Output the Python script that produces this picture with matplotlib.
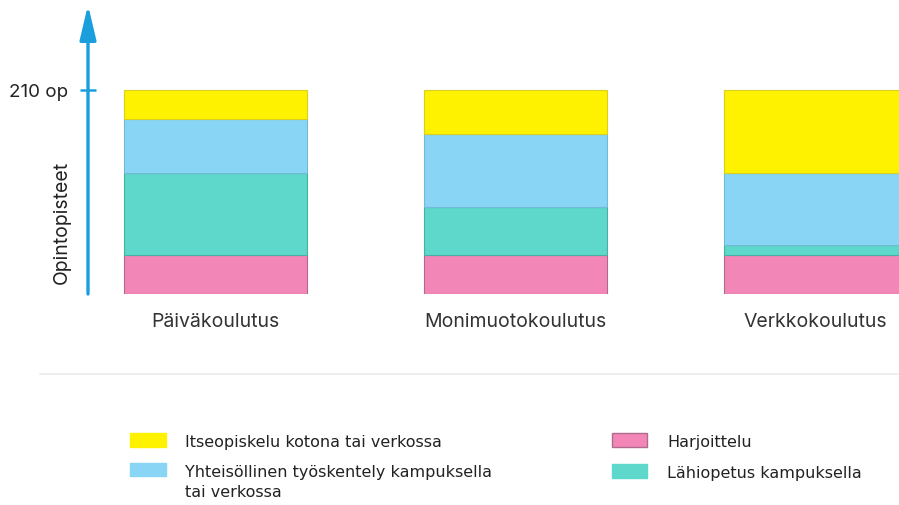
import matplotlib
matplotlib.use("Agg")
import matplotlib.pyplot as plt
from matplotlib.patches import Patch
from matplotlib.lines import Line2D

categories = ["Päiväkoulutus", "Monimuotokoulutus", "Verkkokoulutus"]
# op per category, bottom to top
harjoittelu = [40, 40, 40]
lahiopetus = [85, 50, 10]
yhteisollinen = [55, 75, 75]
itseopiskelu = [30, 45, 85]
total_op = 210

series = [
    ("Harjoittelu", harjoittelu, "#f287b7", "#b06a8c"),
    ("Lähiopetus kampuksella", lahiopetus, "#5ed8ca", "#4ab0a4"),
    ("Yhteisöllinen työskentely kampuksella\ntai verkossa", yhteisollinen, "#89d5f5", "#74b9d6"),
    ("Itseopiskelu kotona tai verkossa", itseopiskelu, "#fff200", "#d9cf20"),
]

BLUE = "#1a9fdc"
W, H = 899, 506

fig = plt.figure(figsize=(W / 100, H / 100), dpi=100)
fig.patch.set_facecolor("white")

# axes: left at arrow (x=88px), bottom at y=295px, top at arrow tip
ax = fig.add_axes([88 / W, (H - 295) / H, (W - 88) / W, 289 / H])
ymax = total_op * 289 / 204
ax.set_ylim(0, ymax)
ax.set_xlim((88 - 215.5) / 300, (899 - 215.5) / 300)

x = list(range(len(categories)))
bottom = [0] * len(categories)
for name, vals, col, edge in series:
    ax.bar(x, vals, width=0.61, bottom=bottom, color=col, edgecolor=edge,
           linewidth=0.8)
    bottom = [b + v for b, v in zip(bottom, vals)]

for s in ax.spines.values():
    s.set_visible(False)

ax.set_xticks(x)
ax.set_xticklabels(categories, fontsize=14, color="#333333", family="Inter")
ax.tick_params(axis="x", length=0, pad=13)

ax.set_yticks([total_op])
ax.set_yticklabels(["210 op"], fontsize=13.5, color="#222222", family="Inter")
ax.tick_params(axis="y", direction="inout", length=11, width=1.8, color=BLUE, pad=9)

ax.annotate("", xy=(0, 1), xytext=(0, 0), xycoords="axes fraction",
            arrowprops=dict(arrowstyle="-|>,head_length=1.05,head_width=0.25",
                            mutation_scale=20, color=BLUE, lw=2.4,
                            shrinkA=0, shrinkB=0), annotation_clip=False)

fig.text(62 / W, 1 - 222 / H, "Opintopisteet", rotation=90, ha="center", va="center",
         fontsize=14, color="#222222", family="Inter")

fig.add_artist(Line2D([40 / W, 1], [1 - 375 / H, 1 - 375 / H], color="#ebebeb", lw=1.2))

handles = [Patch(facecolor=series[3][2], edgecolor=series[3][2]),
           Patch(facecolor=series[2][2], edgecolor=series[2][2]),
           Patch(facecolor=series[0][2], edgecolor=series[0][3]),
           Patch(facecolor=series[1][2], edgecolor=series[1][2])]
labels = [series[3][0], series[2][0], series[0][0], series[1][0]]
leg = fig.legend(handles, labels, ncol=2, loc="upper left",
                 bbox_to_anchor=(116 / W, 1 - 420 / H), frameon=False,
                 prop=dict(family="DejaVu Sans", size=11.5),
                 handlelength=2.2, handleheight=0.9, handletextpad=1.25,
                 columnspacing=7.5, labelspacing=1.0)
for t in leg.get_texts():
    t.set_color("#222222")
    t.set_linespacing(1.35)
# align the two-line entry's swatch with its first line
hb = leg.legend_handles[1]
hb.set_y(hb.get_y() + 9)

fig.savefig("out.png", dpi=100)
